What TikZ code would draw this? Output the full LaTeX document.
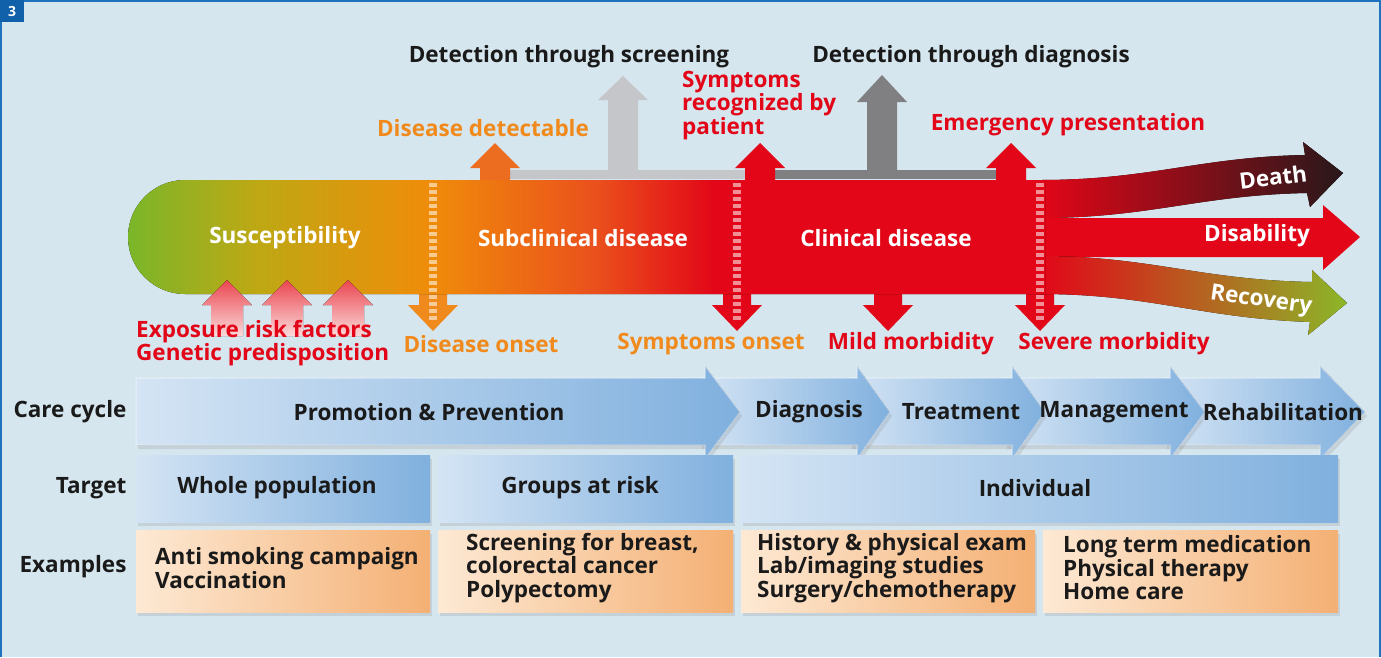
\documentclass[tikz,border=0pt]{standalone}
\usepackage{fontspec}
\setmainfont{Open Sans}
\usetikzlibrary{shadows}

\definecolor{bgblue}{RGB}{214,230,238}
\definecolor{frameblue}{RGB}{30,115,190}
\definecolor{badgeblue}{RGB}{16,96,170}
\definecolor{dred}{RGB}{226,6,24}
\definecolor{dorange}{RGB}{240,138,28}
\definecolor{uporange}{RGB}{236,108,32}
\definecolor{lgrey}{RGB}{196,198,201}
\definecolor{dgrey}{RGB}{128,128,130}
\definecolor{sgreen}{RGB}{122,182,42}
\definecolor{solive}{RGB}{190,168,20}
\definecolor{sorange}{RGB}{240,140,10}
\definecolor{sredor}{RGB}{234,80,28}
\definecolor{sred}{RGB}{226,6,24}
\definecolor{sdark}{RGB}{40,24,26}
\definecolor{sbrown}{RGB}{130,22,26}
\definecolor{rgreen}{RGB}{140,182,40}
\definecolor{pinktop}{RGB}{235,70,80}
\definecolor{pinkbot}{RGB}{250,218,218}
\definecolor{blight}{RGB}{212,228,244}
\definecolor{bdark}{RGB}{128,176,222}
\definecolor{olight}{RGB}{253,233,212}
\definecolor{odark}{RGB}{244,176,116}
\definecolor{txtblack}{RGB}{26,26,26}

\pgfdeclarehorizontalshading{bandshade}{100bp}{color(0bp)=(sgreen); color(25bp)=(sgreen); color(32bp)=(solive); color(41.5bp)=(sorange); color(50.5bp)=(sredor); color(57bp)=(sred); color(100bp)=(sred)}

\tikzset{
  bigfont/.style={font=\fontsize{22.5}{23.5}\selectfont\bfseries},
  headlbl/.style={bigfont, text=txtblack},
  redlbl/.style={bigfont, text=dred},
  orlbl/.style={bigfont, text=dorange},
  bandlbl/.style={bigfont, text=white},
  outlbl/.style={bigfont, text=white, inner sep=0},
  rowlbl/.style={bigfont, text=txtblack, anchor=east},
  celltxt/.style={bigfont, text=txtblack, align=left, anchor=west, inner sep=0},
  ladder/.style={white, opacity=0.55, line width=8, dash pattern=on 4 off 3},
  chev/.style={left color=blight, right color=bdark, draw=white, draw opacity=0.5, line width=1,
    drop shadow={opacity=0.2, shadow xshift=2pt, shadow yshift=-4pt}},
  bluebox/.style={left color=blight, right color=bdark,
    drop shadow={opacity=0.2, shadow xshift=2pt, shadow yshift=-4pt}},
  orbox/.style={left color=olight, right color=odark,
    drop shadow={opacity=0.2, shadow xshift=2pt, shadow yshift=-4pt}}
}

\begin{document}
\begin{tikzpicture}[x=1pt, y=-1pt]

  % Background and frame
  \fill[bgblue] (0,0) rectangle (1381,657);
  \useasboundingbox (0,0) rectangle (1381,657);
  \draw[frameblue, line width=2] (1,657) -- (1,1) -- (1380,1) -- (1380,657);
  \fill[badgeblue] (0,0) rectangle (24,22);
  \node[font=\fontsize{14}{14}\selectfont\bfseries, text=white] (badge) at (12,11) {3};

  % Detection bars and grey arrows
  \fill[lgrey] (495,170) rectangle (760,179);
  \fill[lgrey] (608,172) -- (608,100) -- (598,100) -- (623,76) -- (648,100) -- (638,100) -- (638,172) -- cycle;
  \fill[dgrey] (760,170) rectangle (1011,179);
  \fill[dgrey] (867,172) -- (867,102) -- (857,102) -- (882,75) -- (907,102) -- (897,102) -- (897,172) -- cycle;

  % Up arrows out of the band
  \foreach \cx/\col in {495/uporange, 760/dred, 1011/dred}
    \fill[\col] (\cx-15,195) -- (\cx-15,168) -- (\cx-25,168) -- (\cx,143) -- (\cx+25,168) -- (\cx+15,168) -- (\cx+15,195) -- cycle;

  % Down arrows out of the band
  \foreach \cx/\col in {433/dorange, 737/dred, 888/dred, 1040/dred}
    \fill[\col] (\cx-14,280) -- (\cx-14,305) -- (\cx-25,305) -- (\cx,331) -- (\cx+25,305) -- (\cx+14,305) -- (\cx+14,280) -- cycle;

  % Outcome arrows
  \fill[left color=sred, middle color=sbrown, right color=sdark]
    (1040,180) .. controls (1150,180) and (1200,157) .. (1305,155) -- (1303,142) -- (1343,173)
    -- (1310,207) -- (1307,193) .. controls (1200,195) and (1150,218) .. (1040,218) -- cycle;
  \fill[sred] (1040,218) -- (1323,218) -- (1323,205) -- (1360,237) -- (1323,270) -- (1323,257) -- (1040,257) -- cycle;
  \fill[left color=sred, middle color=sredor, right color=rgreen]
    (1040,256) .. controls (1150,256) and (1200,280) .. (1312,282) -- (1312,270) -- (1347,303)
    -- (1308,335) -- (1310,322) .. controls (1200,318) and (1150,294) .. (1040,294) -- cycle;

  % Disease band
  \fill[shading=bandshade] (185,180) -- (1045,180) -- (1045,294) -- (185,294)
    arc[start angle=-90, end angle=-270, radius=57pt] -- cycle;

  % Risk factor arrows
  \foreach \cx in {227,287,348}
    \fill[top color=pinktop, bottom color=pinkbot] (\cx-16,336) -- (\cx-16,305) -- (\cx-25,305) -- (\cx,280) -- (\cx+25,305) -- (\cx+16,305) -- (\cx+16,336) -- cycle;

  % Transition markers
  \foreach \cx in {433,737,1040}
    \draw[ladder] (\cx,183) -- (\cx,322);

  % Labels above and below the band
  \node[headlbl] (screening) at (569,57) {Detection through screening};
  \node[headlbl] (diagnosis) at (971,57) {Detection through diagnosis};
  \node[redlbl, align=left, anchor=north west, inner sep=0] (recognized) at (682,71) {Symptoms\\recognized by\\patient};
  \node[orlbl] (detectable) at (483,128) {Disease detectable};
  \node[redlbl] (emergency) at (1068,125) {Emergency presentation};
  \node[bandlbl] (suscept) at (285,238) {Susceptibility};
  \node[bandlbl] (subclin) at (583,238) {Subclinical disease};
  \node[bandlbl] (clinical) at (886,238) {Clinical disease};
  \node[outlbl, rotate=7] (death) at (1273,177) {Death};
  \node[outlbl] (disab) at (1257,236) {Disability};
  \node[outlbl, rotate=-8] (recov) at (1261,301) {Recovery};
  \node[redlbl, align=left, anchor=north west, inner sep=0] (exposure) at (136,320) {Exposure risk factors\\Genetic predisposition};
  \node[orlbl] (onset) at (481,344) {Disease onset};
  \node[orlbl] (symonset) at (711,344) {Symptoms onset};
  \node[redlbl] (mild) at (911,344) {Mild morbidity};
  \node[redlbl] (severe) at (1114,344) {Severe morbidity};

  % Care cycle arrows
  \foreach \xl/\xh/\xt in {1165/1320/1365, 1005/1170/1205, 850/1012/1045, 700/857/890}
    \fill[chev] (\xl,378) -- (\xh,378) -- (\xh,366) -- (\xt,412) -- (\xh,459) -- (\xh,445) -- (\xl,445) -- cycle;
  \fill[chev] (136,378) -- (705,378) -- (705,366) -- (740,412) -- (705,459) -- (705,445) -- (136,445) -- cycle;

  % Target and example boxes
  \fill[bluebox] (136,455) rectangle (430,522);
  \fill[bluebox] (438,455) rectangle (733,522);
  \fill[bluebox] (741,455) rectangle (1338,522);
  \fill[orbox] (136,530) rectangle (430,612);
  \fill[orbox] (438,530) rectangle (733,612);
  \fill[orbox] (741,530) rectangle (1035,612);
  \fill[orbox] (1043,530) rectangle (1338,612);

  % Row labels and texts
  \node[rowlbl] (carelbl) at (130,412) {Care cycle};
  \node[rowlbl] (targetlbl) at (130,488) {Target};
  \node[rowlbl] (exlbl) at (130,567) {Examples};
  \node[headlbl] (promo) at (429,412) {Promotion \& Prevention};
  \node[headlbl] (diag) at (809,412) {Diagnosis};
  \node[headlbl] (treat) at (961,412) {Treatment};
  \node[headlbl] (manage) at (1114,412) {Management};
  \node[headlbl] (rehab) at (1283,412) {Rehabilitation};
  \node[headlbl] (whole) at (277,488) {Whole population};
  \node[headlbl] (groups) at (580,488) {Groups at risk};
  \node[headlbl] (indiv) at (1035,488) {Individual};
  \node[celltxt] (ex1) at (155,568) {Anti smoking campaign\\Vaccination};
  \node[celltxt] (ex2) at (466,568) {Screening for breast,\\colorectal cancer\\Polypectomy};
  \node[celltxt] (ex3) at (757,568) {History \& physical exam\\Lab/imaging studies\\Surgery/chemotherapy};
  \node[celltxt] (ex4) at (1063,568) {Long term medication\\Physical therapy\\Home care};
\end{tikzpicture}
\end{document}
